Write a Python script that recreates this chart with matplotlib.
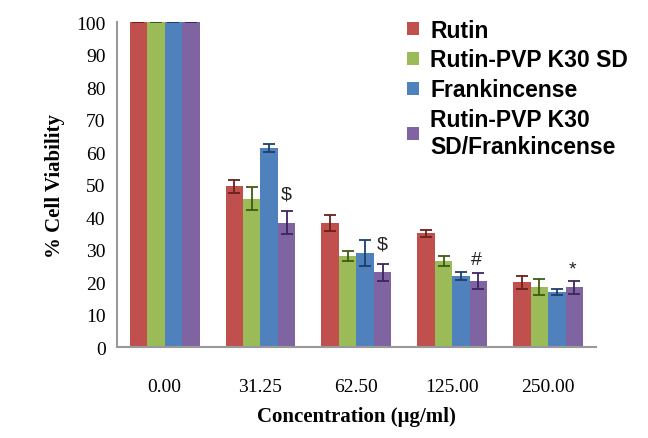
import matplotlib.pyplot as plt
import numpy as np

concentrations = ["0.00", "31.25", "62.50", "125.00", "250.00"]
series_names = ["Rutin", "Rutin-PVP K30 SD", "Frankincense",
                "Rutin-PVP K30\nSD/Frankincense"]
rutin = [100, 49.5, 38.3, 35.0, 20.0]
rutin_sd = [100, 45.7, 28.0, 26.5, 18.5]
frank = [100, 61.4, 29.0, 22.0, 17.0]
combo = [100, 38.3, 23.0, 20.3, 18.5]
rutin_err = [0, 2.0, 2.5, 1.2, 2.0]
rutin_sd_err = [0, 3.5, 1.5, 1.5, 2.5]
frank_err = [0, 1.2, 4.0, 1.2, 1.0]
combo_err = [0, 3.5, 2.5, 2.5, 2.0]
marks = ["$", "$", "#", "*"]
mark_y = [47, 31.8, 27, 24]

colours = ["#C0504D", "#9BBB59", "#4F81BD", "#8064A2"]
err_colours = ["#6b1f1c", "#3d5a12", "#1d3f6b", "#3b2560"]

fig = plt.figure(figsize=(6.48, 4.39), dpi=100)
ax = fig.add_axes([0.18, 0.207, 0.74, 0.74])

x = np.arange(len(concentrations))
w = 0.182
values = [rutin, rutin_sd, frank, combo]
errors = [rutin_err, rutin_sd_err, frank_err, combo_err]
for i, (vals, errs) in enumerate(zip(values, errors)):
    ax.bar(x + (i - 1.5) * w, vals, w, color=colours[i], label=series_names[i],
           yerr=errs, capsize=4,
           error_kw=dict(ecolor=err_colours[i], elinewidth=1.3, capthick=1.3))

# significance marks next to the combination bars
mark_x = [1 + 1.5 * w, 2 + 1.5 * w, 3 + 1.4 * w, 4 + 1.4 * w]
for mx, my, m in zip(mark_x, mark_y, marks):
    ax.text(mx, my, m, ha="center", va="center", fontsize=14,
            family="Liberation Sans", color="#222222")

ax.set_xlim(-0.5, 4.5)
ax.set_ylim(0, 100)
ax.set_yticks(range(0, 101, 10))
ax.set_xticks(x)
ax.set_xticklabels(concentrations)
ax.tick_params(length=0, labelsize=14, pad=8)
ax.tick_params(axis="x", pad=22)
for lab in ax.get_xticklabels() + ax.get_yticklabels():
    lab.set_family("Liberation Serif")
for s in ["top", "right"]:
    ax.spines[s].set_visible(False)
for s in ["left", "bottom"]:
    ax.spines[s].set_color("#999999")
    ax.spines[s].set_linewidth(1.5)

ax.set_ylabel("% Cell Viability", family="Liberation Serif", fontweight="bold",
              fontsize=15, labelpad=8)
ax.set_xlabel("Concentration (\u03bcg/ml)", family="Liberation Serif",
              fontweight="bold", fontsize=15, labelpad=8)

leg = ax.legend(loc="upper left", bbox_to_anchor=(0.563, 1.075), frameon=False,
                prop=dict(family="Liberation Sans", weight="bold", size=16.5),
                handlelength=0.5, handleheight=0.5, handletextpad=0.5,
                labelspacing=0.3)

plt.savefig("out.png", dpi=100)
